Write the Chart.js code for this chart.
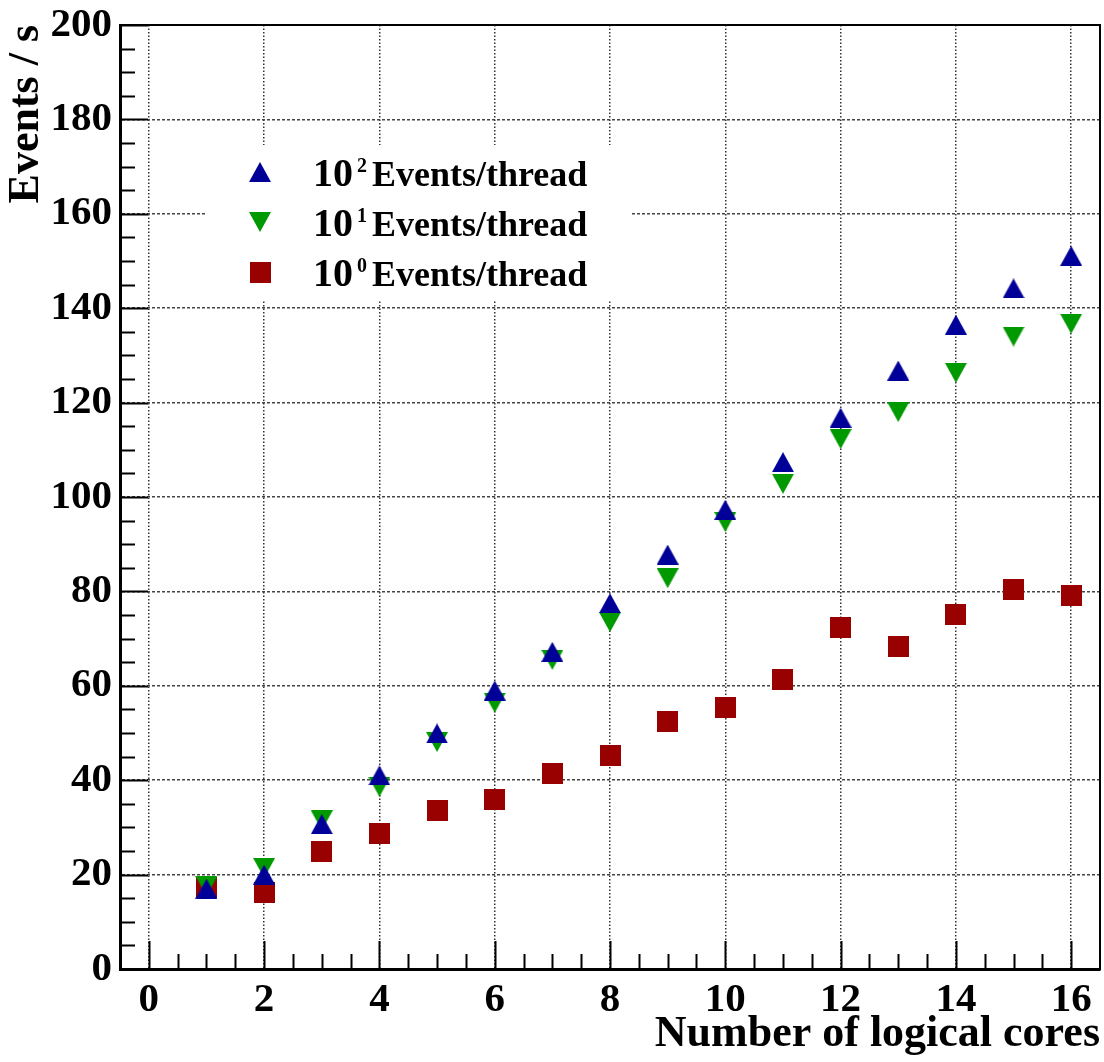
<!DOCTYPE html>
<html>
<head>
<meta charset="utf-8">
<title>Events/s vs logical cores</title>
<script src="https://cdn.jsdelivr.net/npm/chart.js@4.4.1/dist/chart.umd.min.js"></script>
<style>
  html, body { margin: 0; padding: 0; background: #fff; }
  #wrap { width: 1104px; height: 1062px; position: relative; }
</style>
</head>
<body>
<div id="wrap"><canvas id="rate-chart"></canvas></div>
<script>
// Throughput vs number of logical cores, one series per batch size
const cores    = [1, 2, 3, 4, 5, 6, 7, 8, 9, 10, 11, 12, 13, 14, 15, 16];
const rate1e2  = [17.0, 20.0, 30.7, 41.0, 49.9, 59.0, 67.2, 77.5, 87.8, 97.3, 107.4, 116.8, 126.8, 136.5, 144.2, 151.1];
const rate1e1  = [17.6, 21.4, 31.5, 38.6, 48.1, 56.4, 65.5, 73.5, 82.8, 94.7, 102.8, 112.3, 118.0, 126.3, 134.0, 136.7];
const rate1e0  = [17.3, 16.3, 24.8, 28.8, 33.6, 35.9, 41.5, 45.3, 52.5, 55.5, 61.4, 72.3, 68.4, 75.2, 80.5, 79.1];

const xTicks = [0, 2, 4, 6, 8, 10, 12, 14, 16];
const yTicks = [0, 20, 40, 60, 80, 100, 120, 140, 160, 180, 200];

const exponents = ['2', '1', '0'];
const legendText = 'Events/thread';

const SERIF = '"Liberation Serif", "Times New Roman", serif';

// ROOT-style markers (bbox centred on the value)
function marker(kind, color) {
  const c = document.createElement('canvas');
  const w = kind === 'square' ? 21 : 22;
  const h = kind === 'square' ? 21 : 20;
  c.width = w; c.height = h;
  const g = c.getContext('2d');
  g.fillStyle = color;
  g.beginPath();
  if (kind === 'up') {
    g.moveTo(0, h); g.lineTo(w, h); g.lineTo(w / 2, 0);
  } else if (kind === 'down') {
    g.moveTo(0, 0); g.lineTo(w, 0); g.lineTo(w / 2, h);
  } else {
    g.rect(0, 0, w, h);
  }
  g.closePath();
  g.fill();
  return c;
}

const markers = [
  marker('up', '#000099'),
  marker('down', '#009900'),
  marker('square', '#990000'),
];

const toPoints = ys => cores.map((x, i) => ({ x, y: ys[i] }));

// white legend pad + entries with superscripts
const legendPlugin = {
  id: 'rootLegend',
  beforeDatasetsDraw(chart) {
    const { ctx, chartArea: a } = chart;
    ctx.save();
    ctx.fillStyle = '#fff';
    ctx.fillRect(a.left + 85, a.top + 120, 427, 155);
    ctx.restore();
  },
  afterDraw(chart) {
    const { ctx, chartArea: a } = chart;
    const baselines = [186, 236, 286];
    ctx.save();
    ctx.fillStyle = '#000';
    ctx.textBaseline = 'alphabetic';
    baselines.forEach((b, i) => {
      const m = markers[i];
      ctx.drawImage(m, a.left + 140 - m.width / 2, b - 14 - m.height / 2);
      ctx.font = `bold 40px ${SERIF}`;
      ctx.fillText('10', a.left + 193, b);
      ctx.font = `bold 20px ${SERIF}`;
      ctx.fillText(exponents[i], a.left + 237, b - 14);
      ctx.font = `bold 36px ${SERIF}`;
      ctx.fillText(legendText, a.left + 252, b);
    });
    ctx.restore();
  }
};

// inner tick marks and the closing frame
const frameTicks = {
  id: 'frameTicks',
  afterDraw(chart) {
    const { ctx, chartArea: a, scales: { x, y } } = chart;
    ctx.save();
    ctx.strokeStyle = '#000';
    ctx.lineWidth = 2;
    ctx.beginPath();
    for (let v = 0; v <= 200; v += 5) {
      const py = Math.round(y.getPixelForValue(v)) + 0.5;
      const len = v % 20 === 0 ? 28 : 15;
      ctx.moveTo(a.left, py);
      ctx.lineTo(a.left + len, py);
    }
    for (let v = 0; v <= 16; v += 0.5) {
      const px = Math.round(x.getPixelForValue(v)) + 0.5;
      const len = v % 2 === 0 ? 28 : 15;
      ctx.moveTo(px, a.bottom);
      ctx.lineTo(px, a.bottom - len);
    }
    ctx.stroke();
    ctx.lineWidth = 2;
    ctx.strokeRect(a.left, a.top, a.right - a.left, a.bottom - a.top);
    ctx.restore();
  }
};

const tickFont = { family: SERIF, weight: 'bold', size: 41 };

new Chart(document.getElementById('rate-chart'), {
  type: 'scatter',
  data: {
    datasets: [
      { label: '10^2 Events/thread', data: toPoints(rate1e2), pointStyle: markers[0], pointRadius: 11 },
      { label: '10^1 Events/thread', data: toPoints(rate1e1), pointStyle: markers[1], pointRadius: 11 },
      { label: '10^0 Events/thread', data: toPoints(rate1e0), pointStyle: markers[2], pointRadius: 11 },
    ]
  },
  options: {
    responsive: true,
    maintainAspectRatio: false,
    animation: false,
    events: [],
    layout: { autoPadding: false, padding: { top: 25, right: 4, left: 0, bottom: 0 } },
    plugins: { legend: { display: false }, tooltip: { enabled: false } },
    scales: {
      x: {
        type: 'linear',
        min: -0.5,
        max: 16.5,
        afterBuildTicks: s => { s.ticks = xTicks.map(v => ({ value: v })); },
        afterFit: s => { s.height = 93; s.paddingLeft = 0; s.paddingRight = 0; },
        ticks: { font: tickFont, color: '#000', padding: 7, maxRotation: 0, autoSkip: false },
        grid: { color: '#333', lineWidth: 1.5, drawTicks: false },
        border: { display: true, color: '#000', width: 3, dash: [1.5, 2] },
        title: {
          display: true,
          text: 'Number of logical cores',
          align: 'end',
          color: '#000',
          font: { family: SERIF, weight: 'bold', size: 44 },
          padding: { top: 0, bottom: 1 }
        }
      },
      y: {
        min: 0,
        max: 200,
        afterBuildTicks: s => { s.ticks = yTicks.map(v => ({ value: v })); },
        afterFit: s => { s.width = 120; s.paddingTop = 0; s.paddingBottom = 0; },
        ticks: { font: tickFont, color: '#000', padding: 8 },
        grid: { color: '#444', lineWidth: 1.5, drawTicks: false },
        border: { display: true, color: '#000', width: 3, dash: [3, 2] },
        title: {
          display: true,
          text: 'Events / s',
          align: 'end',
          color: '#000',
          font: { family: SERIF, weight: 'bold', size: 44 },
          padding: { top: 0, bottom: 0 }
        }
      }
    }
  },
  plugins: [legendPlugin, frameTicks]
});
</script>
</body>
</html>
